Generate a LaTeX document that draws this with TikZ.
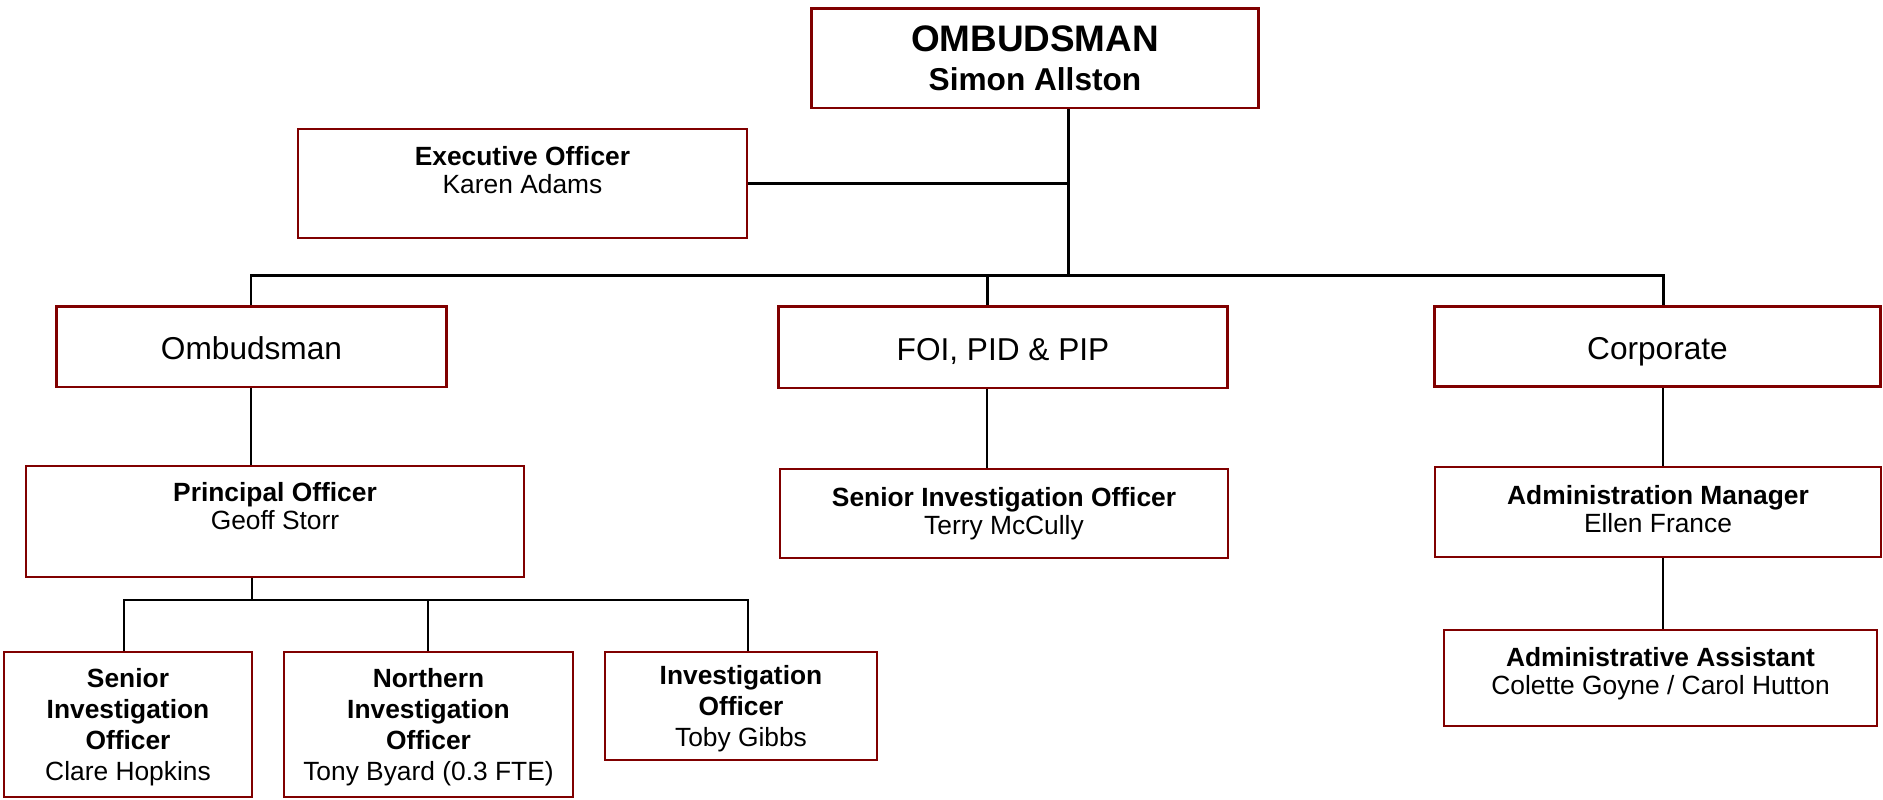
\documentclass[tikz,border=0pt]{standalone}
\usepackage{fontspec}
\setmainfont{Liberation Sans}
\usepackage{tikz}
\usepackage{xcolor}
\definecolor{boxred}{RGB}{128,0,0}
\newcommand{\posttitle}[1]{\textbf{#1}}
\newcommand{\postfont}{\fontsize{15}{16}\selectfont}
\newcommand{\teamfont}{\fontsize{15}{17.5}\selectfont}
\newcommand{\unitfont}{\fontsize{18}{21.6}\selectfont}

\tikzset{
  headbox/.style={draw=boxred, line width=1.7pt, align=center, inner sep=0pt, font=\unitfont, text height=15.2pt, text depth=0pt},
  postbox/.style={draw=boxred, line width=0.85pt, align=center, inner sep=0pt, font=\postfont},
  teambox/.style={postbox, font=\teamfont, text depth=0pt},
  busline/.style={line width=1.7pt},
  linkline/.style={line width=1.1pt}
}

\begin{document}
\begin{tikzpicture}[x=0.02cm,y=-0.02cm]
\useasboundingbox (0,0) rectangle (1883,799);
%the boxes
\node [headbox,minimum width=8.96cm,minimum height=2.00cm,text height=,text depth=,font=\fontsize{18}{22}\selectfont\bfseries] (boss) at (1035,58) {{\fontsize{21}{22}\selectfont OMBUDSMAN}\\Simon Allston};
\node [postbox,minimum width=8.98cm,minimum height=2.18cm,text depth=15pt] (exec) at (522.5,183.5) {\posttitle{Executive Officer}\\Karen Adams};

\node [headbox,minimum width=7.82cm,minimum height=1.62cm] (omb) at (251.5,346.5) {Ombudsman};
\node [headbox,minimum width=9.00cm,minimum height=1.64cm] (foi) at (1003,347) {FOI, PID \& PIP};
\node [headbox,minimum width=8.94cm,minimum height=1.60cm] (corp) at (1657.5,346.5) {Corporate};

\node [postbox,minimum width=9.96cm,minimum height=2.22cm,text depth=18pt] (princ) at (275,521.5) {\posttitle{Principal Officer}\\Geoff Storr};
\node [postbox,minimum width=8.96cm,minimum height=1.78cm] (sio) at (1004,513.5) {\posttitle{Senior Investigation Officer}\\Terry McCully};
\node [postbox,minimum width=8.92cm,minimum height=1.80cm,text depth=3.4pt] (admMgr) at (1658,512) {\posttitle{Administration Manager}\\Ellen France};
\node [postbox,minimum width=8.66cm,minimum height=1.92cm,text depth=8pt] (admAsst) at (1660.5,678) {\posttitle{Administrative Assistant}\\Colette Goyne / Carol Hutton};

\node [teambox,minimum width=4.96cm,minimum height=2.90cm] (senior) at (128,724.5) {\posttitle{Senior}\\\posttitle{Investigation}\\\posttitle{Officer}\\Clare Hopkins};
\node [teambox,minimum width=5.78cm,minimum height=2.90cm] (northern) at (428.5,724.5) {\posttitle{Northern}\\\posttitle{Investigation}\\\posttitle{Officer}\\Tony Byard (0.3 FTE)};
\node [teambox,minimum width=5.44cm,minimum height=2.16cm] (invOff) at (741,706) {\posttitle{Investigation}\\\posttitle{Officer}\\Toby Gibbs};

%junction points
\coordinate (spine) at (1068,275);
\coordinate (busL) at (251,275);
\coordinate (busM) at (987,275);
\coordinate (busR) at (1663,275);
\coordinate (subTop) at (252,600);
\coordinate (subL) at (124,600);
\coordinate (subM) at (428,600);
\coordinate (subR) at (748,600);

%drawings of lines
\draw[busline] (boss.south -| spine) -- (spine);
\draw[busline] (exec.east) -- (exec.east -| spine);
\draw[busline] (busL |- omb.north) -- (busL) -- (busR) -- (busR |- corp.north);
\draw[busline] (busM) -- (busM |- foi.north);

\draw[linkline] (omb.south -| busL) -- (busL |- princ.north);
\draw[linkline] (foi.south -| busM) -- (busM |- sio.north);
\draw[linkline] (corp.south -| busR) -- (busR |- admMgr.north);
\draw[linkline] (admMgr.south -| busR) -- (busR |- admAsst.north);

\draw[linkline] (princ.south -| subTop) -- (subTop);
\draw[linkline] (subL |- senior.north) -- (subL) -- (subR) -- (subR |- invOff.north);
\draw[linkline] (subM) -- (subM |- northern.north);

\end{tikzpicture}
\end{document}
